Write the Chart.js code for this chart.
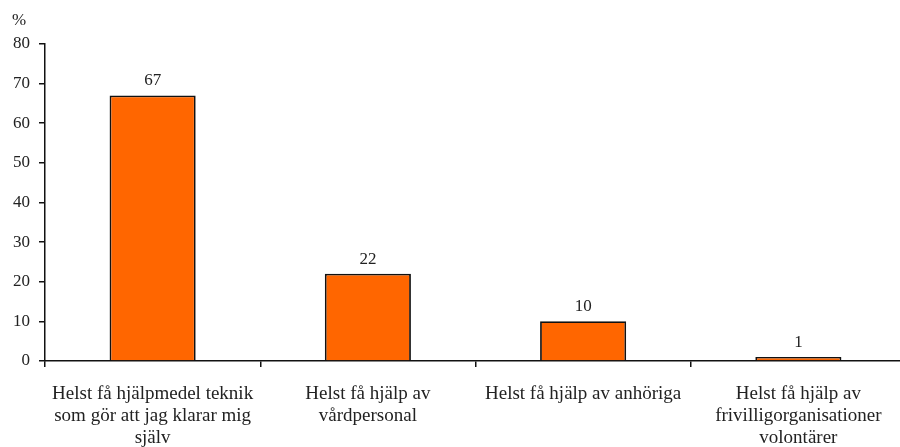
<!DOCTYPE html>
<html lang="sv">
<head>
<meta charset="utf-8">
<title>Helst få hjälp</title>
<script src="https://cdn.jsdelivr.net/npm/chart.js@4.4.0/dist/chart.umd.min.js"></script>
<style>
  html, body { margin: 0; padding: 0; background: #fff; overflow: hidden; }
  #wrap { width: 906px; height: 473px; position: relative; }
</style>
</head>
<body>
<div id="wrap"><canvas id="chart"></canvas></div>
<script>
  // kategorier (flera rader per etikett) och andel i procent
  var categories = [
    ['Helst få hjälpmedel teknik', 'som gör att jag klarar mig', 'själv'],
    ['Helst få hjälp av', 'vårdpersonal'],
    'Helst få hjälp av anhöriga',
    ['Helst få hjälp av', 'frivilligorganisationer', 'volontärer']
  ];
  var values = [67, 22, 10, 1];
  var yTicks = [0, 10, 20, 30, 40, 50, 60, 70, 80];
  var unitLabel = '%';

  var serif = '"Liberation Serif", "Times New Roman", serif';
  var textColor = '#222';

  // värdet ovanför varje stapel och enheten ovanför y-axeln
  var valueLabels = {
    id: 'valueLabels',
    afterDatasetsDraw: function(chart) {
      var ctx = chart.ctx;
      var meta = chart.getDatasetMeta(0);
      var y = chart.scales.y;
      ctx.save();
      ctx.font = '17px ' + serif;
      ctx.fillStyle = textColor;
      ctx.textAlign = 'center';
      ctx.textBaseline = 'alphabetic';
      meta.data.forEach(function(bar, i) {
        ctx.fillText(String(values[i]), bar.x, bar.y - 10);
      });
      ctx.textAlign = 'left';
      ctx.fillText(unitLabel, y.left + 8, chart.chartArea.top - 19);
      ctx.restore();
    }
  };

  new Chart(document.getElementById('chart'), {
    type: 'bar',
    data: {
      labels: categories,
      datasets: [{
        data: values,
        backgroundColor: '#FF6600',
        borderColor: '#111',
        borderWidth: 1.8,
        barPercentage: 0.4,
        categoryPercentage: 1
      }]
    },
    options: {
      responsive: true,
      maintainAspectRatio: false,
      animation: false,
      layout: { padding: { left: 4, right: 0, top: 44, bottom: 8 } },
      plugins: {
        legend: { display: false },
        tooltip: { enabled: false },
        title: { display: false }
      },
      scales: {
        x: {
          border: { display: true, color: '#111', width: 1.5 },
          grid: { drawOnChartArea: false, drawTicks: true, tickLength: 6, color: '#111', lineWidth: 1.5, offset: true },
          ticks: {
            color: textColor,
            padding: 16,
            maxRotation: 0,
            autoSkip: false,
            font: { family: serif, size: 19, lineHeight: 1.16 }
          }
        },
        y: {
          min: 0,
          max: 80,
          afterBuildTicks: function(axis) {
            axis.ticks = yTicks.map(function(v) { return { value: v }; });
          },
          border: { display: true, color: '#111', width: 1.5 },
          grid: { drawOnChartArea: false, drawTicks: true, tickLength: 6, color: '#111', lineWidth: 1.5 },
          ticks: {
            color: textColor,
            padding: 9,
            font: { family: serif, size: 17 }
          }
        }
      }
    },
    plugins: [valueLabels]
  });
</script>
</body>
</html>
